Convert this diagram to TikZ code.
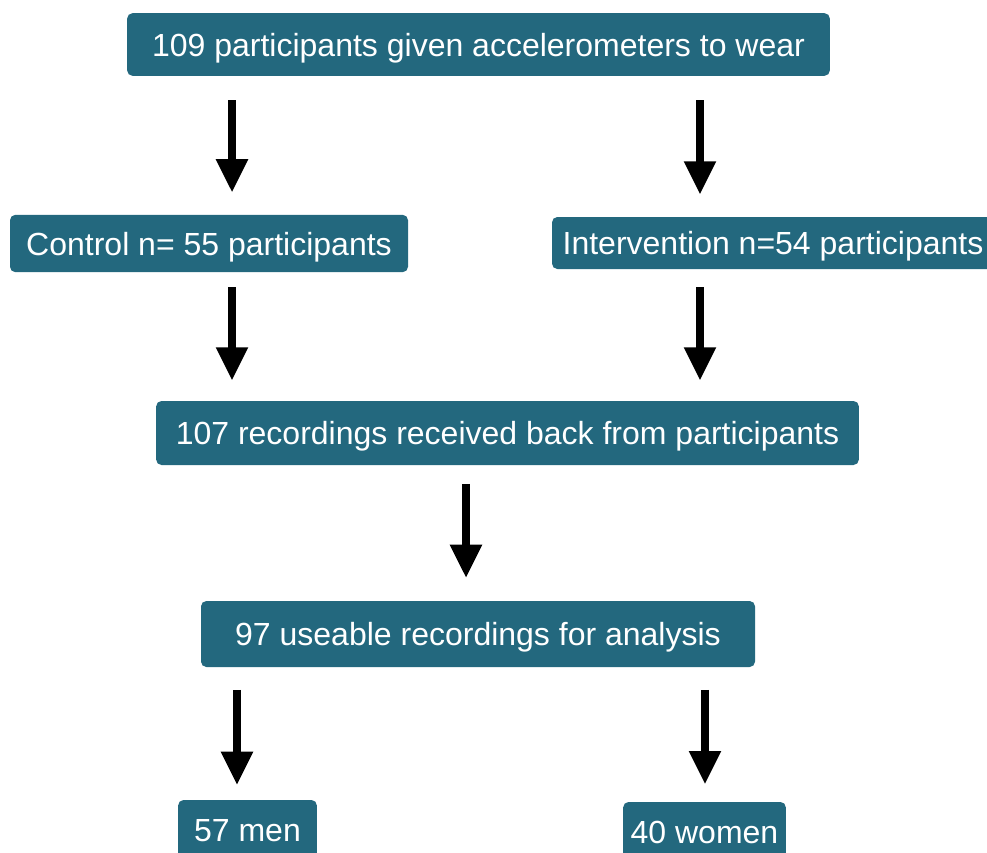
\documentclass[tikz,border=0pt]{standalone}
\usepackage{fontspec}
\setmainfont{Liberation Sans}
\usetikzlibrary{arrows.meta,positioning}
\definecolor{boxteal}{RGB}{35,104,126}

\begin{document}
\begin{tikzpicture}[
  x=0.75pt, y=-0.75pt,
  every node/.style={font=\fontsize{24}{28}\selectfont},
  stage/.style={rectangle, rounded corners=4pt, fill=boxteal, text=white,
                inner sep=0pt, text height=17.5pt, text depth=0pt},
  flow/.style={-{Triangle[length=25pt,width=22.5pt]}, line width=6pt,
               shorten <=16pt, shorten >=15pt},
]
  \clip (0,0) rectangle (987,852);
  % Stages
  \node[stage, minimum width=527pt, minimum height=47pt] (given) at (478.5,44.5)
    {109 participants given accelerometers to wear};
  \node[stage, minimum width=298.5pt, minimum height=43pt] (control) at (209,243.5)
    {Control n= 55 participants};
  \node[stage, minimum width=331.5pt, minimum height=39pt] (interv) at (773,243)
    {Intervention n=54 participants};
  \node[stage, minimum width=527pt, minimum height=48pt] (received) at (507.5,433)
    {107 recordings received back from participants};
  \node[stage, minimum width=415.5pt, minimum height=49.5pt] (useable) at (478,634)
    {97 useable recordings for analysis};
  \node[stage, minimum width=104pt, minimum height=45pt] (men) at (247.5,830)
    {57 men};
  \node[stage, minimum width=122pt, minimum height=45pt] (women) at (704.5,832)
    {40 women};
  % Arrow columns
  \coordinate (colA) at (232,0);
  \coordinate (colB) at (700,0);
  \coordinate (colC) at (466,0);
  \coordinate (colD) at (237,0);
  \coordinate (colE) at (705,0);
  % Arrows
  \draw[flow, shorten <=18pt, shorten >=16.5pt] (colA |- given.south) -- (colA |- control.north);
  \draw[flow, shorten <=18pt, shorten >=16.5pt] (colB |- given.south) -- (colB |- interv.north);
  \draw[flow, shorten <=11pt] (colA |- control.south) -- (colA |- received.north);
  \draw[flow, shorten <=13.5pt] (colB |- interv.south) -- (colB |- received.north);
  \draw[flow, shorten <=14pt, shorten >=17pt] (colC |- received.south) -- (colC |- useable.north);
  \draw[flow, shorten <=17pt, shorten >=11pt] (colD |- useable.south) -- (colD |- men.north);
  \draw[flow, shorten <=17pt, shorten >=13pt] (colE |- useable.south) -- (colE |- women.north);
\end{tikzpicture}
\end{document}
